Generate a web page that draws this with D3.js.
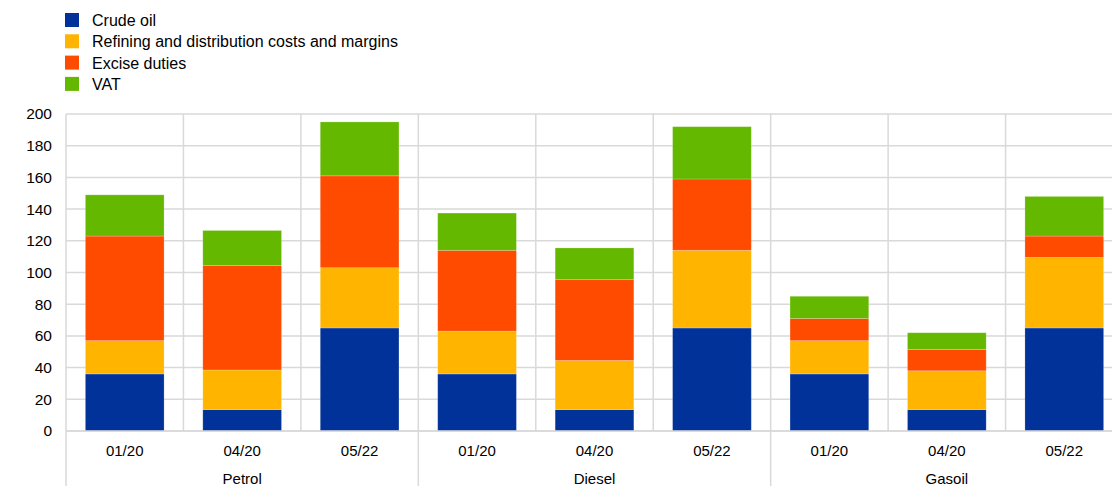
<!DOCTYPE html>
<html>
<head>
<meta charset="utf-8">
<script src="https://cdn.jsdelivr.net/npm/d3@7"></script>
<style>
  body { margin: 0; background: #fff; }
  text { font-family: "Liberation Sans", Arial, sans-serif; fill: #000; }
</style>
</head>
<body>
<svg id="chart" width="1112" height="486"></svg>
<script>
// data
var groups = ["Petrol", "Diesel", "Gasoil"];
var periods = ["01/20", "04/20", "05/22"];
var seriesNames = ["Crude oil", "Refining and distribution costs and margins", "Excise duties", "VAT"];
var seriesColors = ["#003299", "#ffb400", "#ff4b00", "#65b800"];

var crudeOil = [36, 13.5, 65, 36, 13.5, 65, 36, 13.5, 65];
var refining = [21, 25, 38, 27, 31, 49, 21, 24.5, 44.5];
var excise   = [66, 66, 58, 51, 51, 45, 14, 13.5, 13.5];
var vat      = [26, 22, 34, 23.5, 20, 33, 14, 10.5, 25];

var yTicks = [0, 20, 40, 60, 80, 100, 120, 140, 160, 180, 200];

var width = 1112, height = 486;
var plotLeft = 66, plotRight = 1123, plotTop = 114, plotBottom = 431;

var svg = d3.select("#chart");

// build rows
var rows = [];
for (var g = 0; g < groups.length; g++) {
  for (var p = 0; p < periods.length; p++) {
    var i = g * periods.length + p;
    rows.push({
      key: groups[g] + "_" + periods[p],
      group: groups[g],
      period: periods[p],
      s0: crudeOil[i], s1: refining[i], s2: excise[i], s3: vat[i]
    });
  }
}

var x = d3.scaleBand()
  .domain(rows.map(function(d) { return d.key; }))
  .range([plotLeft, plotRight])
  .padding(0);

var y = d3.scaleLinear()
  .domain([0, 200])
  .range([plotBottom, plotTop]);

var gridColor = "#d9d9d9";

// horizontal gridlines
svg.append("g").selectAll("line.hgrid").data(yTicks).enter().append("line")
  .attr("class", "hgrid")
  .attr("x1", plotLeft)
  .attr("x2", width)
  .attr("y1", function(d) { return y(d); })
  .attr("y2", function(d) { return y(d); })
  .style("stroke", gridColor)
  .style("stroke-width", 1.5);

// vertical gridlines at each category boundary
var boundaries = rows.map(function(d, i) { return { x: x(d.key), groupStart: i % periods.length == 0 }; });
svg.append("g").selectAll("line.vgrid").data(boundaries).enter().append("line")
  .attr("class", "vgrid")
  .attr("x1", function(d) { return d.x; })
  .attr("x2", function(d) { return d.x; })
  .attr("y1", plotTop)
  .attr("y2", function(d) { return d.groupStart ? height : plotBottom; })
  .style("stroke", gridColor)
  .style("stroke-width", 1.5);

// y tick labels
svg.append("g").selectAll("text.ylab").data(yTicks).enter().append("text")
  .attr("class", "ylab")
  .attr("x", 52)
  .attr("y", function(d) { return y(d); })
  .attr("dy", "0.35em")
  .attr("text-anchor", "end")
  .style("font-size", "15.5px")
  .text(function(d) { return d; });

// stacked bars
var stack = d3.stack().keys(["s0", "s1", "s2", "s3"]);
var stacked = stack(rows);
var barW = x.bandwidth() * 0.67;

svg.append("g").selectAll("g.layer").data(stacked).enter().append("g")
  .attr("class", "layer")
  .attr("fill", function(d, i) { return seriesColors[i]; })
  .selectAll("rect").data(function(d) { return d; }).enter().append("rect")
  .attr("x", function(d) { return x(d.data.key) + (x.bandwidth() - barW) / 2; })
  .attr("width", barW)
  .attr("y", function(d) { return y(d[1]); })
  .attr("height", function(d) { return y(d[0]) - y(d[1]); })
  .style("stroke", "rgba(255,255,255,0.25)")
  .style("stroke-width", 0.8);

// axis line
svg.append("line")
  .attr("x1", plotLeft).attr("x2", width)
  .attr("y1", plotBottom).attr("y2", plotBottom)
  .style("stroke", gridColor)
  .style("stroke-width", 1.5);

// period labels
svg.append("g").selectAll("text.period").data(rows).enter().append("text")
  .attr("class", "period")
  .attr("x", function(d) { return x(d.key) + x.bandwidth() / 2; })
  .attr("y", 456)
  .attr("text-anchor", "middle")
  .style("font-size", "15px")
  .text(function(d) { return d.period; });

// group labels
svg.append("g").selectAll("text.group").data(groups).enter().append("text")
  .attr("class", "group")
  .attr("x", function(d, i) {
    var first = x(d + "_" + periods[0]);
    return first + x.bandwidth() * periods.length / 2;
  })
  .attr("y", 484)
  .attr("text-anchor", "middle")
  .style("font-size", "15px")
  .text(function(d) { return d; });

// legend
var legend = svg.append("g").selectAll("g.legend").data(seriesNames).enter().append("g")
  .attr("class", "legend")
  .attr("transform", function(d, i) { return "translate(65," + (13 + i * 21.3) + ")"; });

legend.append("rect")
  .attr("width", 14)
  .attr("height", 14)
  .attr("fill", function(d, i) { return seriesColors[i]; });

legend.append("text")
  .attr("x", 27)
  .attr("y", 13)
  .style("font-size", "16px")
  .text(function(d) { return d; });
</script>
</body>
</html>
